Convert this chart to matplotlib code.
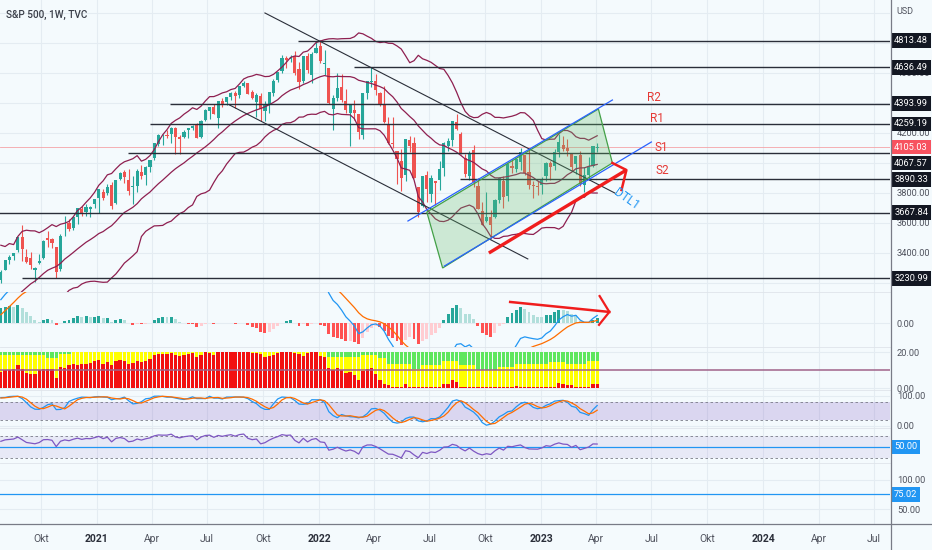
import numpy as np
import pandas as pd
import matplotlib
matplotlib.use('Agg')
import matplotlib.pyplot as plt
import matplotlib.dates as mdates
from matplotlib.patches import Polygon
from matplotlib.lines import Line2D
from matplotlib.transforms import blended_transform_factory as blend

plt.rcParams['font.family'] = ['Roboto', 'DejaVu Sans']

# ---- weekly S&P 500 candles, week of 2020-07-27 .. week of 2023-04-03
first_week = '2020-07-27'
opens = [3219, 3289, 3356, 3380, 3418, 3508, 3371, 3363, 3285, 3334, 3367, 3500, 3494, 3441, 3296, 3583, 3600, 3566, 3641, 3694, 3675, 3694, 3723,
         3764, 3803, 3797, 3855, 3732, 3892, 3939, 3885, 3842, 3844, 3942, 3916, 3970, 4034, 4124, 4179, 4186, 4192, 4229, 4169,
         4170, 4216, 4229, 4255, 4173, 4285, 4344, 4372, 4296, 4409, 4407, 4437, 4462, 4450, 4514, 4535, 4469, 4403, 4448, 4348,
         4385, 4463, 4553, 4610, 4701, 4689, 4712, 4628, 4548, 4710, 4588, 4733,
         4778, 4655, 4632, 4357, 4432, 4506, 4412, 4332, 4354, 4323, 4188, 4462, 4541, 4547, 4462, 4385, 4256, 4130, 4081, 4013,
         3920, 4151, 4134, 3838, 3715, 3920, 3792, 3880, 3883, 3966, 4112, 4155, 4270, 4195, 4034, 3910, 4084, 3849, 3682, 3610,
         3640, 3638, 3755, 3881, 3780, 3978, 3956, 4005, 4052, 3939, 3853, 3843,
         3853, 3911, 3999, 3979, 4072, 4120, 4096, 4057, 3993, 4055, 3855, 3917, 3982, 4102]
highs = [3287, 3352, 3387, 3399, 3509, 3588, 3425, 3409, 3306, 3393, 3485, 3549, 3502, 3441, 3529, 3646, 3628, 3644, 3699, 3712, 3726, 3711, 3760,
         3826, 3823, 3859, 3870, 3887, 3937, 3950, 3959, 3914, 3960, 3983, 3978, 4020, 4129, 4192, 4195, 4219, 4238, 4237, 4188,
         4218, 4234, 4249, 4262, 4286, 4356, 4372, 4393, 4415, 4430, 4440, 4469, 4480, 4511, 4546, 4535, 4487, 4465, 4466, 4412,
         4475, 4560, 4608, 4718, 4714, 4718, 4744, 4672, 4713, 4731, 4740, 4808,
         4818, 4749, 4632, 4453, 4595, 4590, 4490, 4385, 4416, 4326, 4465, 4546, 4637, 4593, 4471, 4513, 4308, 4307, 4082, 4090,
         4159, 4178, 4169, 3838, 3913, 3946, 3918, 3880, 4012, 4141, 4167, 4281, 4325, 4204, 4062, 4077, 4119, 3900, 3736, 3807,
         3687, 3762, 3906, 3911, 4002, 4028, 4034, 4101, 4052, 4100, 3877, 3878,
         3906, 4003, 4015, 4095, 4195, 4176, 4160, 4058, 4048, 4079, 3973, 4039, 4110, 4133]
lows = [3200, 3285, 3327, 3354, 3404, 3349, 3330, 3292, 3209, 3323, 3361, 3441, 3430, 3234, 3280, 3511, 3543, 3553, 3594, 3646, 3647, 3636, 3698,
        3663, 3750, 3786, 3694, 3725, 3884, 3866, 3789, 3723, 3804, 3894, 3853, 3937, 4020, 4110, 4119, 4165, 4129, 4057, 4062,
        4165, 4167, 4220, 4165, 4165, 4280, 4294, 4322, 4233, 4369, 4384, 4416, 4368, 4432, 4508, 4459, 4427, 4305, 4278, 4278,
        4329, 4448, 4537, 4595, 4630, 4672, 4585, 4495, 4532, 4600, 4531, 4733,
        4662, 4582, 4395, 4222, 4415, 4402, 4334, 4115, 4285, 4157, 4162, 4425, 4502, 4451, 4381, 4268, 4128, 4099, 3858, 3811,
        3876, 4074, 3901, 3637, 3705, 3740, 3742, 3722, 3818, 3911, 4080, 4113, 4218, 4057, 3906, 3887, 3838, 3693, 3584, 3604,
        3491, 3630, 3735, 3698, 3749, 3933, 3942, 3951, 3918, 3828, 3764, 3784,
        3795, 3877, 3885, 3949, 4037, 4079, 4047, 3943, 3928, 3847, 3809, 3888, 3972, 4069]
closes = [3271, 3351, 3373, 3397, 3508, 3427, 3341, 3319, 3298, 3348, 3477, 3484, 3465, 3270, 3510, 3585, 3558, 3638, 3699, 3663, 3709, 3703, 3756,
          3825, 3768, 3841, 3714, 3887, 3934, 3907, 3811, 3842, 3943, 3913, 3975, 4020, 4129, 4185, 4180, 4181, 4233, 4174, 4156,
          4204, 4230, 4247, 4166, 4281, 4352, 4370, 4327, 4412, 4395, 4437, 4468, 4442, 4509, 4535, 4459, 4433, 4455, 4357, 4391,
          4471, 4545, 4605, 4697, 4683, 4698, 4595, 4538, 4712, 4621, 4726, 4766,
          4677, 4663, 4398, 4432, 4500, 4419, 4349, 4385, 4329, 4204, 4463, 4543, 4546, 4488, 4393, 4272, 4132, 4123, 4024, 3901,
          4158, 4109, 3901, 3675, 3912, 3825, 3899, 3863, 3962, 4130, 4145, 4280, 4228, 4058, 3924, 4067, 3873, 3693, 3586, 3640,
          3583, 3753, 3901, 3771, 3993, 3965, 4026, 4072, 3934, 3852, 3845, 3840,
          3895, 3999, 3973, 4071, 4136, 4090, 4079, 3970, 4046, 3862, 3917, 3971, 4109, 4105.03]
# weekly data before the visible window (indicator warm-up)
warmup_closes = [2952, 2970, 2986, 3023, 3067, 3093, 3120, 3110, 3141, 3146, 3169, 3221, 3240,
                 3235, 3265, 3330, 3295, 3226, 3328, 3380, 3338, 2954, 2972, 2711, 2305, 2541, 2489, 2790, 2875,
                 2837, 2831, 2930, 2864, 2955, 3044, 3194, 3041, 3098, 3009, 3130, 3185, 3225, 3216]
# highs / lows of the last 20 warm-up weeks (2020-03-09 .. 2020-07-20)
warmup_highs = [2882, 2553, 2637, 2632, 2818, 2879, 2869, 2965, 2934, 2954, 2980, 3068, 3211, 3233, 3155, 3155, 3165, 3186, 3233, 3280]
warmup_lows = [2478, 2280, 2192, 2474, 2662, 2729, 2727, 2830, 2798, 2766, 2908, 2964, 3032, 2984, 2965, 2999, 3000, 3116, 3127, 3199]

# ---- stacked trend-strength bars (scale 0..20): red bottom, green top, yellow between
red_part = [9.0, 9.9, 9.9, 10.3, 12.7, 10.5, 8.6, 7.7, 8.0, 9.9, 10.8, 10.8, 10.3, 5.8, 11.8, 11.4, 12.7, 13.3, 12.7, 13.3, 13.3, 14.0, 15.1,
            15.5, 13.6, 14.6, 12.7, 15.1, 15.5, 15.0, 13.3, 14.0, 15.1, 14.4, 15.1, 16.3, 18.3, 18.9, 18.9, 18.9, 19.6, 18.3, 17.8,
            18.5, 18.9, 19.3, 17.0, 18.5, 20, 19.6, 18.5, 20, 20, 20, 20, 20, 20, 20, 20, 19.3, 19.3, 18.9, 17.0,
            17.8, 18.5, 19.6, 20, 20, 20, 19.6, 18.9, 17.8, 19.6, 20, 20,
            18.0, 17.5, 11.0, 10.0, 11.0, 10.0, 8.6, 9.0, 7.0, 4.3, 9.5, 10.8, 11.0, 8.0, 4.7, 2.0, 1.5, 0.5, 0.5, 0.5,
            2.0, 0.5, 0.3, 0.3, 0.3, 0.3, 0.3, 0.3, 0.3, 2.0, 2.0, 4.3, 3.6, 0.5, 0.3, 0.3, 0.3, 0.3, 0.3, 0.3,
            0.3, 0.3, 0.3, 0.3, 0.3, 0.3, 1.3, 0.3, 0.3, 0.3, 0.3, 0.3,
            0.3, 0.3, 0.3, 0.3, 2.8, 2.1, 1.9, 1.5, 0.3, 0.3, 0.5, 0.3, 2.1, 2.1]
green_part = [1.5, 1.5, 1.5, 1.5, 1.5, 1.5, 1.5, 1.5, 1.5, 1.5, 1.5, 3.5, 3.5, 3.5, 1.0, 1.0, 1.0, 0, 0, 0, 0, 0, 0,
              0, 0, 0, 0, 0, 0, 0, 0, 0, 0, 0, 0, 0, 0, 0, 0, 0, 0, 0, 0,
              0, 0, 0, 0, 0, 0, 0, 0, 0, 0, 0, 0, 0, 0, 0, 0, 0, 0, 0, 0,
              0, 0, 0, 0, 0, 0, 0, 0, 0, 0, 0, 0,
              0, 0, 2.6, 2.6, 2.6, 2.6, 2.6, 2.6, 2.6, 2.6, 1.7, 1.7, 1.7, 1.7, 3.5, 3.5, 6.4, 6.4, 6.4, 6.4,
              6.4, 6.4, 9.7, 9.7, 7.3, 7.3, 7.3, 7.3, 7.3, 4.9, 4.9, 4.9, 4.9, 7.3, 7.3, 7.3, 7.3, 10, 10, 10,
              10, 10, 8.2, 8.2, 8.2, 8.2, 6.4, 6.4, 6.4, 6.4, 6.4, 6.4,
              6.4, 6.4, 5.4, 5.4, 5.4, 5.4, 6.7, 6.7, 6.7, 6.7, 6.7, 4.9, 4.9, 4.9]
strength_mid = 10

# ---- drawings on the price pane
level_prices = [4813.48, 4636.49, 4393.99, 4259.19, 4067.57, 3890.33, 3667.84, 3230.99]
level_starts = ['2021-11-27', '2022-02-27', '2021-05-01', '2021-03-29', '2021-02-21', '2022-08-20', '2020-06-01', '2020-08-31']
last_price = 4105.03
dtl_upper_dates, dtl_upper_prices = ['2021-10-04', '2023-05-02'], [4998, 3799]
dtl_lower_dates, dtl_lower_prices = ['2021-08-07', '2022-12-10'], [4385, 3360]
channel_dates = ['2022-06-27', '2023-04-05', '2023-04-28', '2022-07-23']
channel_prices = [3672.6, 4358.6, 3999.0, 3299.7]
blue_up_dates, blue_up_prices = ['2022-05-27', '2023-04-28'], [3612.7, 4418.5]
blue_lo_dates, blue_lo_prices = ['2022-07-26', '2023-07-01'], [3312.9, 4138.8]
arrow_dates, arrow_prices = ['2022-10-07', '2023-05-21'], [3399.5, 3952.3]
head_dates, head_prices = ['2023-04-28', '2023-05-21', '2023-05-13'], [3999, 3952.3, 3819]
tag_texts = ['R2', 'R1', 'S1', 'S2']
tag_dates = ['2023-07-06', '2023-07-11', '2023-07-18', '2023-07-19']
tag_prices = [4438, 4292, 4099, 3952]
dtl_tag_date, dtl_tag_price = '2023-05-21', 3759
# arrow on the MACD pane
macd_arrow_dates, macd_arrow_vals = ['2022-11-11', '2023-04-23'], [57, 30]
macd_head_dates, macd_head_vals = ['2023-04-07', '2023-04-23', '2023-04-06'], [73, 30, -5]
hline_bottom = 75.02

tick_dates = ['2020-10-01', '2021-01-01', '2021-04-01', '2021-07-01', '2021-10-01', '2022-01-01', '2022-04-01',
              '2022-07-01', '2022-10-01', '2023-01-01', '2023-04-01', '2023-07-01', '2023-10-01', '2024-01-01',
              '2024-04-01', '2024-07-01']
tick_labels = ['Okt', '2021', 'Apr', 'Jul', 'Okt', '2022', 'Apr', 'Jul', 'Okt', '2023', 'Apr', 'Jul', 'Okt', '2024', 'Apr', 'Jul']

# ---- indicators
n_w = len(warmup_closes)
c_all = pd.Series(warmup_closes + closes, dtype=float)
mid = c_all.rolling(20).mean()
sd = c_all.rolling(20).std(ddof=0)
bb_mid = mid.values[n_w:]
bb_up = (mid + 2 * sd).values[n_w:]
bb_lo = (mid - 2 * sd).values[n_w:]
macd = c_all.ewm(span=12, adjust=False).mean() - c_all.ewm(span=26, adjust=False).mean()
signal = macd.ewm(span=9, adjust=False).mean()
hist = macd - signal
delta = c_all.diff()
ag = delta.clip(lower=0).ewm(alpha=1 / 14, adjust=False).mean()
al = (-delta.clip(upper=0)).ewm(alpha=1 / 14, adjust=False).mean()
rsi = 100 - 100 / (1 + ag / al)

# stochastic (14, 3, 3) on price
n_h = len(warmup_highs)
c_s = pd.Series(warmup_closes[-n_h:] + closes, dtype=float)
h_s = pd.Series(warmup_highs + highs, dtype=float)
l_s = pd.Series(warmup_lows + lows, dtype=float)
ll, hh = l_s.rolling(14).min(), h_s.rolling(14).max()
k = (100 * (c_s - ll) / (hh - ll)).rolling(3).mean()
d = k.rolling(3).mean()

weeks = pd.date_range(first_week, periods=len(closes), freq='7D')
xs = mdates.date2num(weeks)
num = lambda s: mdates.date2num(pd.to_datetime(s))

# ---- figure / panes
W, H = 932, 550
BG = '#f4fafd'
GRID = '#e4ecf2'
fig = plt.figure(figsize=(W / 100, H / 100), dpi=100, facecolor=BG)
ref = num('2021-01-01')
xl = (ref - 97 / 0.6085, ref + (890 - 97) / 0.6085)


def pane(y0, y1, ylim, yticks, grid=None):
    ax = fig.add_axes([0, 1 - y1 / H, 890 / W, (y1 - y0) / H])
    ax.set_facecolor(BG)
    ax.set_xlim(*xl)
    ax.set_ylim(*ylim)
    for s in ['left', 'right', 'bottom']:
        ax.spines[s].set_visible(False)
    ax.spines['top'].set_color('#dfe4ea')
    ax.spines['top'].set_linewidth(0.6)
    ax.yaxis.tick_right()
    ax.set_yticks(yticks)
    ax.set_yticklabels(['%.2f' % v for v in yticks])
    ax.tick_params(axis='y', length=0, pad=5, labelsize=6.7, labelcolor='#50535e')
    ax.tick_params(axis='x', bottom=False, labelbottom=False)
    for t in num(tick_dates):
        ax.axvline(t, color=GRID, lw=0.8, zorder=0)
    for v in (grid if grid is not None else yticks):
        ax.axhline(v, color=GRID, lw=0.8, zorder=0)
    return ax


def box(ax, val, text, color, dy=0):
    ax.annotate(text, xy=(1, val), xycoords=blend(ax.transAxes, ax.transData),
                xytext=(3, dy), textcoords='offset points', ha='left', va='center',
                fontsize=6.7, color='white', annotation_clip=False, zorder=20,
                bbox=dict(boxstyle='square,pad=0.3', fc=color, ec='none'))


ax_p = pane(0, 292, (3139.8, 5084.5), [3400, 3600, 3800, 4200, 4600], grid=list(range(3200, 5001, 200)))
ax_m = pane(292, 347, (-65, 84), [0])
ax_s = pane(347, 390, (-1.1, 22.8), [0, 20])
ax_k = pane(390, 428, (-6.7, 120), [0, 100])
ax_r = pane(428, 463, (20.9, 84.5), [])
ax_b = pane(463, 524, (24.6, 128), [50, 100])
ax_p.spines['top'].set_visible(False)

# price pane: candles and Bollinger bands
up = np.array(closes) >= np.array(opens)
cols = np.where(up, '#26a69a', '#ef5350')
ax_p.vlines(xs, lows, highs, colors=cols, lw=0.8, zorder=3)
body = np.maximum(np.abs(np.array(closes) - np.array(opens)), 3)
ax_p.bar(xs, body, bottom=np.minimum(opens, closes), width=5.2, color=cols, zorder=4)
for band in (bb_up, bb_mid, bb_lo):
    ax_p.plot(xs, band, color='#8e1f50', lw=0.9, zorder=5)
ax_p.axhline(last_price, color='#f4a3a8', lw=0.6, zorder=2)
for lv, st in zip(level_prices, level_starts):
    ax_p.hlines(lv, num(st), xl[1], color='#2a2e39', lw=1.0, zorder=6)
ax_p.plot(num(dtl_upper_dates), dtl_upper_prices, color='#2a2e39', lw=0.8, zorder=6)
ax_p.plot(num(dtl_lower_dates), dtl_lower_prices, color='#2a2e39', lw=0.8, zorder=6)
ax_p.add_patch(Polygon(np.column_stack([num(channel_dates), channel_prices]), closed=True,
                       fc='#66bb6a', ec='none', alpha=0.28, zorder=7))
ax_p.add_patch(Polygon(np.column_stack([num(channel_dates), channel_prices]), closed=True,
                       fill=False, ec='#43a047', lw=0.9, zorder=7))
ax_p.plot(num(blue_up_dates), blue_up_prices, color='#2962ff', lw=0.9, zorder=8)
ax_p.plot(num(blue_lo_dates), blue_lo_prices, color='#2962ff', lw=0.9, zorder=8)
ax_p.plot(num(arrow_dates), arrow_prices, color='#f01d1d', lw=2.4, zorder=9, solid_capstyle='butt')
ax_p.plot(num(head_dates), head_prices, color='#f01d1d', lw=1.8, zorder=9)
for t, dt, pr in zip(tag_texts, tag_dates, tag_prices):
    ax_p.text(num(dt), pr, t, color='#e53935', fontsize=8.5, ha='center', va='center', zorder=10)
ax_p.text(num(dtl_tag_date), dtl_tag_price, 'DTL1', color='#2196f3', fontsize=8.5, rotation=-35,
          ha='center', va='center', zorder=10)

box(ax_p, 4813.48, '4813.48', '#131722')
box(ax_p, 4636.49, '4636.49', '#131722')
box(ax_p, 4393.99, '4393.99', '#131722')
box(ax_p, 4259.19, '4259.19', '#131722')
box(ax_p, 3890.33, '3890.33', '#131722')
box(ax_p, 3667.84, '3667.84', '#131722')
box(ax_p, 3230.99, '3230.99', '#131722')
box(ax_p, 4067.57, '4067.57', '#131722', dy=-7.5)
box(ax_p, last_price, '4105.03', '#f7525f')

# MACD pane
hv = hist.values
hcol = []
for i in range(n_w, len(hv)):
    if hv[i] >= 0:
        hcol.append('#26a69a' if hv[i] >= hv[i - 1] else '#b2dfdb')
    else:
        hcol.append('#ffcdd2' if hv[i] >= hv[i - 1] else '#ff5252')
ax_m.bar(xs, hv[n_w:], width=4.8, color=hcol, zorder=3)
ax_m.plot(xs, macd.values[n_w:], color='#2196f3', lw=0.9, zorder=4)
ax_m.plot(xs, signal.values[n_w:], color='#ff6d00', lw=0.9, zorder=4)
ax_m.plot(num(macd_arrow_dates), macd_arrow_vals, color='#f01d1d', lw=1.8, zorder=6)
ax_m.plot(num(macd_head_dates), macd_head_vals, color='#f01d1d', lw=1.6, zorder=6)

# stacked strength pane
red_a = np.array(red_part)
green_a = np.array(green_part)
yellow_a = 20 - red_a - green_a
ax_s.bar(xs, red_a, width=5.4, color='#f21010', zorder=3)
ax_s.bar(xs, yellow_a, bottom=red_a, width=5.4, color='#ffff00', zorder=3)
ax_s.bar(xs, green_a, bottom=red_a + yellow_a, width=5.4, color='#5ee65e', zorder=3)
ax_s.axhline(strength_mid, color='#a0638a', lw=1.1, zorder=4)

# stochastic pane
ax_k.axhspan(20, 80, color='#7e57c2', alpha=0.22, lw=0, zorder=1)
for v in (20, 80):
    ax_k.axhline(v, color='#787b86', lw=0.6, ls=(0, (3, 3)), zorder=2)
ax_k.plot(xs, k.values[n_h:], color='#2196f3', lw=0.9, zorder=4)
ax_k.plot(xs, d.values[n_h:], color='#ff6d00', lw=0.9, zorder=4)

# RSI pane
ax_r.axhspan(30, 70, color='#7e57c2', alpha=0.1, lw=0, zorder=1)
for v in (30, 70):
    ax_r.axhline(v, color='#787b86', lw=0.6, ls=(0, (3, 3)), zorder=2)
ax_r.axhline(50, color='#2196f3', lw=0.9, zorder=3)
ax_r.plot(xs, rsi.values[n_w:], color='#7e57c2', lw=0.9, zorder=4)
box(ax_r, 50, '50.00', '#2196f3')

# bottom pane
ax_b.axhline(hline_bottom, color='#2196f3', lw=0.9, zorder=3)
box(ax_b, hline_bottom, '%.2f' % hline_bottom, '#2196f3')
ax_b.tick_params(axis='x', bottom=False, labelbottom=True, pad=4, labelsize=7.5, labelcolor='#50535e')
ax_b.set_xticks(num(tick_dates))
ax_b.set_xticklabels(tick_labels)
for lab in ax_b.get_xticklabels():
    if lab.get_text().isdigit():
        lab.set_fontweight('bold')
        lab.set_color('#2a2e39')

# frame lines and header
fig.add_artist(Line2D([890.5 / W, 890.5 / W], [0, 1], color='#787b86', lw=0.9))
fig.add_artist(Line2D([0, 1], [1 - 524 / H, 1 - 524 / H], color='#787b86', lw=0.9))
fig.text(6 / W, 1 - 15 / H, 'S&P 500, 1W, TVC', fontsize=7.2, fontweight='medium', color='#3a3e48', va='center')
fig.text(896 / W, 1 - 12 / H, 'USD', fontsize=6.5, color='#50535e', va='center')

fig.savefig('out.png', dpi=100, facecolor=BG)
